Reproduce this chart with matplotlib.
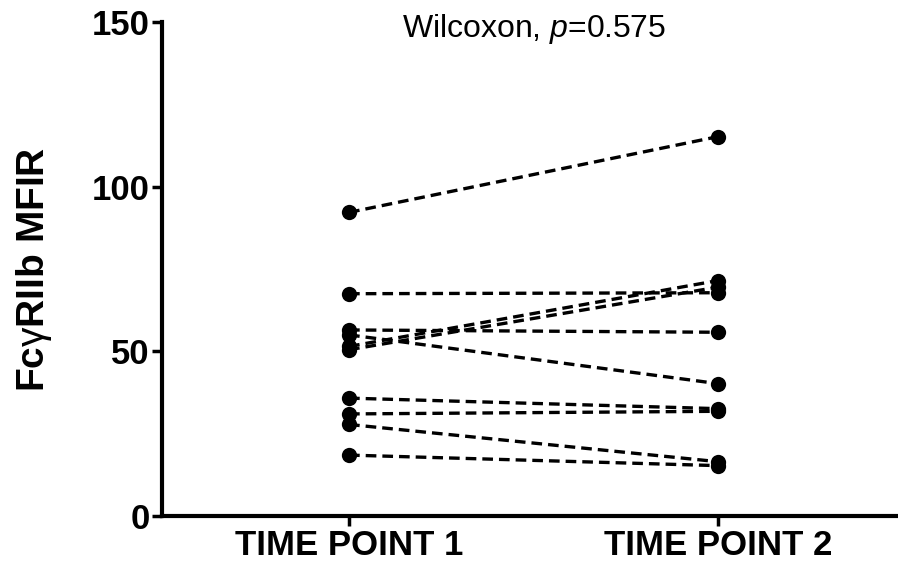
import matplotlib
matplotlib.use('Agg')
import matplotlib.pyplot as plt

# paired values (FcγRIIb MFIR)
time_labels = ['TIME POINT 1', 'TIME POINT 2']
tp1 = [92.2, 67.5, 56.5, 55.0, 51.5, 50.5, 35.8, 31.0, 27.8, 18.5]
tp2 = [115.2, 67.8, 55.8, 40.2, 71.5, 69.5, 32.6, 31.8, 16.5, 15.3]
y_ticks = [0, 50, 100, 150]
stat_text = 'Wilcoxon, $p$=0.575'

plt.rcParams['font.family'] = ['Liberation Sans', 'DejaVu Sans']
plt.rcParams['mathtext.fontset'] = 'custom'
plt.rcParams['mathtext.rm'] = 'Liberation Sans'
plt.rcParams['mathtext.it'] = 'Liberation Sans:italic'

fig = plt.figure(figsize=(8.98, 5.69), dpi=100)
ax = fig.add_axes([0.1804, 0.0931, 0.8196, 0.8682])

xs = [1, 2]
for a, b in zip(tp1, tp2):
    ax.plot(xs, [a, b], color='black', lw=2.4, linestyle=(0, (3.2, 1.8)),
            marker='o', markersize=11, markeredgewidth=0, zorder=3, clip_on=False)

ax.set_xlim(0.493, 2.488)
ax.set_ylim(0, 150)
ax.set_xticks(xs)
ax.set_xticklabels(time_labels, fontsize=25, fontweight='bold')
ax.set_yticks(y_ticks)
ax.set_yticklabels([str(t) for t in y_ticks], fontsize=25, fontweight='bold')

ax.spines['top'].set_visible(False)
ax.spines['right'].set_visible(False)
for s in ['left', 'bottom']:
    ax.spines[s].set_linewidth(3)
ax.tick_params(axis='both', direction='out', length=7, width=2.5, pad=2)

ax.set_ylabel('Fc$\\mathrm{\\gamma}$RIIb MFIR', fontsize=28, fontweight='bold', labelpad=27)

ax.text(0.505, 0.986, stat_text, transform=ax.transAxes, ha='center', va='center',
        fontsize=23)

fig.savefig('out.png', dpi=100)
